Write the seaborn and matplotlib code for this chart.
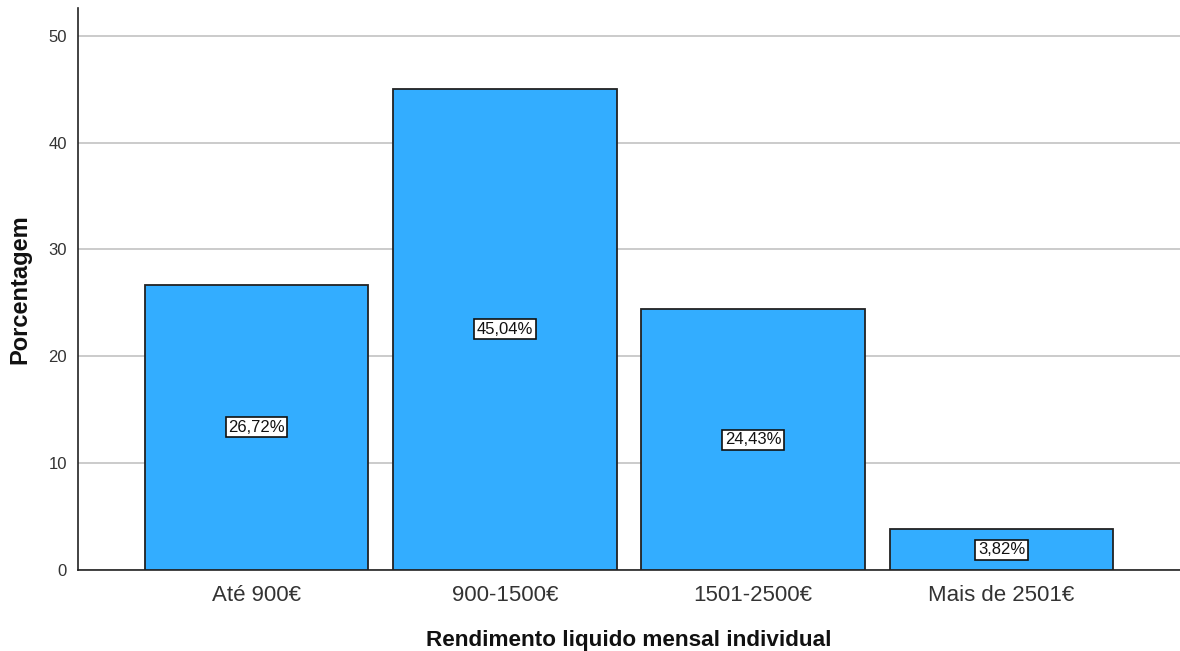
import matplotlib
matplotlib.use("Agg")
import matplotlib.pyplot as plt
import seaborn as sns
import pandas as pd

categories = ["Até 900€", "900-1500€", "1501-2500€", "Mais de 2501€"]
percentages = [26.72, 45.04, 24.43, 3.82]
y_ticks = [0, 10, 20, 30, 40, 50]

df = pd.DataFrame({"Rendimento": categories, "Porcentagem": percentages})

sns.set_theme(style="white")
plt.rcParams["font.family"] = ["Liberation Sans", "DejaVu Sans"]

fig = plt.figure(figsize=(11.8, 6.51), dpi=100)
ax = fig.add_axes([0.0661, 0.1244, 0.9339, 0.8633])

sns.barplot(data=df, x="Rendimento", y="Porcentagem", color="#33adff",
            saturation=1, width=0.9, edgecolor="#222222", linewidth=1.3,
            ax=ax, zorder=3)

ax.set_xlim(-0.719, 3.719)
ax.set_ylim(0, 52.6)
ax.set_yticks(y_ticks)
ax.yaxis.grid(True, color="#bdbdbd", linewidth=1.1, zorder=0)
ax.set_axisbelow(True)
for s in ["top", "right"]:
    ax.spines[s].set_visible(False)
for s in ["left", "bottom"]:
    ax.spines[s].set_color("#222222")
    ax.spines[s].set_linewidth(1.2)

ax.tick_params(axis="x", labelsize=16, colors="#333333", length=0, pad=11)
ax.tick_params(axis="y", labelsize=12, colors="#333333", length=0, pad=8)
ax.set_xlabel("Rendimento liquido mensal individual", fontsize=16.2,
              fontweight="bold", labelpad=17, color="#111111")
ax.set_ylabel("Porcentagem", fontsize=17, fontweight="bold", labelpad=12,
              color="#111111")

for i, v in enumerate(percentages):
    ax.text(i, v / 2, f"{v:.2f}%".replace(".", ","), ha="center", va="center",
            fontsize=12, color="#111111", zorder=5,
            bbox=dict(boxstyle="square,pad=0.15", facecolor="white",
                      edgecolor="#111111", linewidth=1.2))

fig.savefig("out.png", dpi=100)
